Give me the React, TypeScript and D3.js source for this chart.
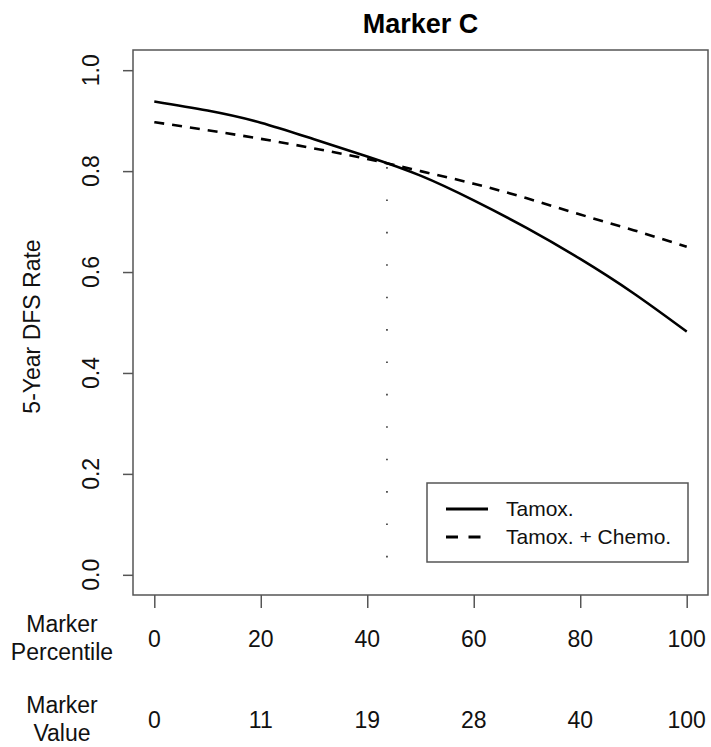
import React, { useEffect, useRef } from 'react';
import * as d3 from 'd3';

// marker percentile (x) and the two predicted 5-year DFS curves
const percentiles = [0, 10, 20, 30, 40, 50, 60, 70, 80, 90, 100];
const tamox = [0.938, 0.92, 0.896, 0.863, 0.829, 0.791, 0.742, 0.687, 0.626, 0.558, 0.482];
const tamoxChemo = [0.897, 0.881, 0.864, 0.845, 0.824, 0.8, 0.775, 0.746, 0.714, 0.683, 0.65];

const xTicks = [0, 20, 40, 60, 80, 100];
const markerValues = ['0', '11', '19', '28', '40', '100'];
const yTicks = [0, 0.2, 0.4, 0.6, 0.8, 1.0];

// where the two curves cross
const crossPercentile = 43.7;
const crossRate = 0.814;

const seriesNames = ['Tamox.', 'Tamox. + Chemo.'];

const W = 711;
const H = 747;
const FONT = '"Liberation Sans", Arial, Helvetica, sans-serif';

const App: React.FC = () => {
  const ref = useRef<SVGSVGElement | null>(null);

  useEffect(() => {
    if (!ref.current) return;
    const svg = d3.select(ref.current);
    svg.selectAll('*').remove();

    // R-style 4% padding on both axes
    const x = d3.scaleLinear().domain([-4, 104]).range([133, 708]);
    const y = d3.scaleLinear().domain([-0.04, 1.04]).range([595, 50]);

    const axisColor = '#555';

    // plot box
    svg.append('rect')
      .attr('x', x(-4))
      .attr('y', y(1.04))
      .attr('width', x(104) - x(-4))
      .attr('height', y(-0.04) - y(1.04))
      .attr('fill', 'none')
      .attr('stroke', axisColor)
      .attr('stroke-width', 1.5);

    // title
    svg.append('text')
      .attr('x', (x(-4) + x(104)) / 2)
      .attr('y', 33)
      .attr('text-anchor', 'middle')
      .attr('font-family', FONT)
      .attr('font-weight', 'bold')
      .attr('font-size', 27)
      .text('Marker C');

    // y axis
    const yAxis = svg.append('g')
      .attr('transform', `translate(${x(-4)},0)`)
      .call(d3.axisLeft(y).tickValues(yTicks).tickSize(10).tickFormat(() => ''));
    yAxis.select('.domain').remove();
    yAxis.selectAll('line').attr('stroke', axisColor).attr('stroke-width', 1.5);

    svg.append('g')
      .selectAll('text')
      .data(yTicks)
      .join('text')
      .attr('transform', d => `translate(99,${y(d)}) rotate(-90)`)
      .attr('text-anchor', 'middle')
      .attr('font-family', FONT)
      .attr('font-size', 23)
      .attr('fill', '#111')
      .text(d => d3.format('.1f')(d));

    svg.append('text')
      .attr('transform', `translate(40,${(y(1.04) + y(-0.04)) / 2 + 4}) rotate(-90)`)
      .attr('text-anchor', 'middle')
      .attr('font-family', FONT)
      .attr('font-size', 23)
      .attr('fill', '#111')
      .text('5-Year DFS Rate');

    // x axis (percentile)
    const xAxis = svg.append('g')
      .attr('transform', `translate(0,${y(-0.04)})`)
      .call(d3.axisBottom(x).tickValues(xTicks).tickSize(13).tickFormat(() => ''));
    xAxis.select('.domain').remove();
    xAxis.selectAll('line').attr('stroke', axisColor).attr('stroke-width', 1.5);

    const rows = [
      { title: ['Marker', 'Percentile'], labels: xTicks.map(String), base: 647 },
      { title: ['Marker', 'Value'], labels: markerValues, base: 728 },
    ];
    rows.forEach(r => {
      svg.append('g')
        .selectAll('text')
        .data(xTicks)
        .join('text')
        .attr('x', d => x(d))
        .attr('y', r.base)
        .attr('text-anchor', 'middle')
        .attr('font-family', FONT)
        .attr('font-size', 23)
        .attr('fill', '#111')
        .text((d, i) => r.labels[i]);
      svg.append('text')
        .attr('x', 62)
        .attr('y', r.base - 15)
        .attr('text-anchor', 'middle')
        .attr('font-family', FONT)
        .attr('font-size', 23)
        .attr('fill', '#111')
        .text(r.title[0]);
      svg.append('text')
        .attr('x', 62)
        .attr('y', r.base + 13)
        .attr('text-anchor', 'middle')
        .attr('font-family', FONT)
        .attr('font-size', 23)
        .attr('fill', '#111')
        .text(r.title[1]);
    });

    // curves
    const line = d3.line<number>()
      .x((d, i) => x(percentiles[i]))
      .y(d => y(d))
      .curve(d3.curveNatural);

    svg.append('path')
      .datum(tamox)
      .attr('fill', 'none')
      .attr('stroke', '#000')
      .attr('stroke-width', 2.6)
      .attr('d', line);

    svg.append('path')
      .datum(tamoxChemo)
      .attr('fill', 'none')
      .attr('stroke', '#000')
      .attr('stroke-width', 2.6)
      .attr('stroke-dasharray', '10 8')
      .attr('d', line);

    // dotted drop line at the crossing
    svg.append('line')
      .attr('x1', x(crossPercentile))
      .attr('x2', x(crossPercentile))
      .attr('y1', y(crossRate) + 3)
      .attr('y2', y(0))
      .attr('stroke', '#333')
      .attr('stroke-width', 1.6)
      .attr('stroke-dasharray', '1.6 30.8');

    // legend
    const lg = svg.append('g');
    lg.append('rect')
      .attr('x', 427)
      .attr('y', 483)
      .attr('width', 261)
      .attr('height', 79)
      .attr('fill', '#fff')
      .attr('stroke', axisColor)
      .attr('stroke-width', 1.5);
    seriesNames.forEach((name, i) => {
      const cy = 509 + i * 28;
      lg.append('line')
        .attr('x1', 446)
        .attr('x2', i === 0 ? 488 : 482)
        .attr('y1', cy)
        .attr('y2', cy)
        .attr('stroke', '#000')
        .attr('stroke-width', 2.8)
        .attr('stroke-dasharray', i === 0 ? null : '12 10.5');
      lg.append('text')
        .attr('x', 506)
        .attr('y', cy)
        .attr('dy', '0.35em')
        .attr('font-family', FONT)
        .attr('font-size', 21)
        .attr('fill', '#111')
        .text(name);
    });
  }, []);

  return (
    <svg
      ref={ref}
      width={W}
      height={H}
      style={{ position: 'absolute', left: 0, top: 0, display: 'block', background: '#fff' }}
    />
  );
};

export default App;
